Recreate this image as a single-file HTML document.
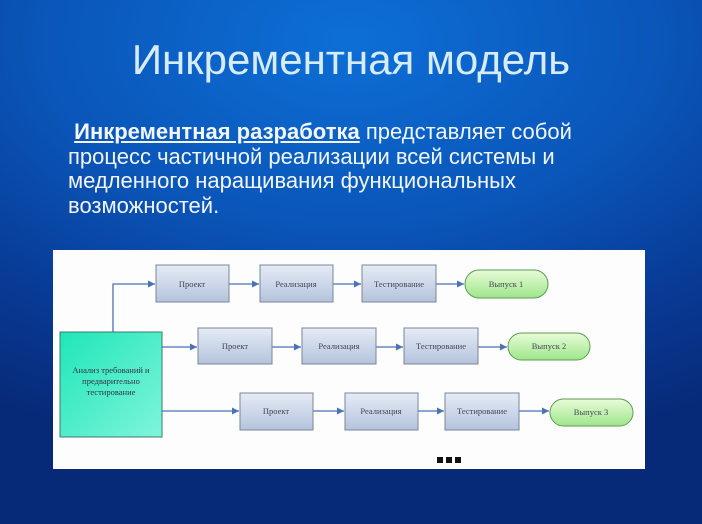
<!DOCTYPE html>
<html><head><meta charset="utf-8"><style>
html,body{margin:0;padding:0;}
body{width:702px;height:524px;overflow:hidden;position:relative;
background:radial-gradient(ellipse 700px 420px at 350px 40px,#0d6fd6 0%,#0a55b8 45%,#083a95 75%,#072a78 100%);
font-family:"Liberation Sans",sans-serif;}
.t{position:absolute;left:0;width:702px;top:36px;text-align:center;color:#d6ecfb;font-size:42px;}
.p{position:absolute;left:68px;top:120px;color:#f2f6fc;font-size:22px;line-height:24.7px;letter-spacing:0px;}
.p b{text-decoration:underline;}
svg{position:absolute;left:0;top:0;}
</style></head><body>
<div class="t">Инкрементная модель</div>
<div class="p">&nbsp;<b>Инкрементная разработка</b> представляет собой<br>процесс частичной реализации всей системы и<br>медленного наращивания функциональных<br>возможностей.</div>
<svg width="702" height="524" font-family="Liberation Serif, serif" font-size="8.5">
<defs>
<linearGradient id="b" x1="0" y1="0" x2="0" y2="1"><stop offset="0" stop-color="#e6ecf6"/><stop offset="1" stop-color="#b4c3dc"/></linearGradient>
<linearGradient id="g" x1="0" y1="0" x2="0" y2="1"><stop offset="0" stop-color="#e8fcd8"/><stop offset="1" stop-color="#9ee68a"/></linearGradient>
<linearGradient id="c" x1="0" y1="0" x2="1" y2="1"><stop offset="0" stop-color="#1fe6b8"/><stop offset="1" stop-color="#7ff5dc"/></linearGradient>
<marker id="a" markerWidth="8" markerHeight="8" refX="7" refY="4" orient="auto" markerUnits="userSpaceOnUse"><path d="M0,0.5 L7,4 L0,7.5z" fill="#4a72b4"/></marker>
</defs>
<rect x="53" y="250" width="592" height="219" fill="#fdfdfd"/>
<rect x="60" y="332" width="102" height="105" fill="url(#c)" stroke="#3c7a6a" stroke-width="1"/>
<text x="111" y="373" text-anchor="middle" fill="#334">Анализ требований и</text>
<text x="111" y="384" text-anchor="middle" fill="#334">предварительно</text>
<text x="111" y="395" text-anchor="middle" fill="#334">тестирование</text>
<g stroke="#4a72b4" stroke-width="1.3" fill="none" marker-end="url(#a)">
<path d="M113,332 V284 H155"/>
<line x1="229" y1="284" x2="259" y2="284"/>
<line x1="333" y1="284" x2="361" y2="284"/>
<line x1="436" y1="284" x2="464" y2="284"/>
<line x1="162" y1="347" x2="197" y2="347"/>
<line x1="272" y1="347" x2="301" y2="347"/>
<line x1="376" y1="347" x2="403" y2="347"/>
<line x1="478" y1="347" x2="507" y2="347"/>
<line x1="162" y1="411" x2="239" y2="411"/>
<line x1="313" y1="411" x2="344" y2="411"/>
<line x1="418" y1="411" x2="444" y2="411"/>
<line x1="519" y1="411" x2="549" y2="411"/>
</g>
<g stroke="#7a8799" stroke-width="1" fill="url(#b)">
<rect x="156" y="265" width="73" height="37"/>
<rect x="260" y="265" width="73" height="37"/>
<rect x="362" y="265" width="74" height="37"/>
<rect x="198" y="328" width="74" height="36"/>
<rect x="302" y="328" width="74" height="36"/>
<rect x="404" y="328" width="74" height="36"/>
<rect x="240" y="393" width="73" height="37"/>
<rect x="345" y="393" width="73" height="37"/>
<rect x="445" y="393" width="74" height="37"/>
</g>
<g stroke="#5d9b58" stroke-width="1" fill="url(#g)">
<rect x="465" y="270" width="83" height="28" rx="14"/>
<rect x="508" y="333" width="82" height="27" rx="13.5"/>
<rect x="550" y="399" width="83" height="27" rx="13.5"/>
</g>
<g fill="#445" text-anchor="middle">
<text x="192" y="287">Проект</text><text x="296" y="287">Реализация</text><text x="399" y="287">Тестирование</text><text x="506" y="287">Выпуск 1</text>
<text x="235" y="349">Проект</text><text x="339" y="349">Реализация</text><text x="441" y="349">Тестирование</text><text x="549" y="349">Выпуск 2</text>
<text x="276" y="414">Проект</text><text x="381" y="414">Реализация</text><text x="482" y="414">Тестирование</text><text x="591" y="415">Выпуск 3</text>
</g>
<g fill="#111"><rect x="437" y="457" width="6" height="6"/><rect x="446" y="457" width="6" height="6"/><rect x="455" y="457" width="6" height="6"/></g>
</svg>
</body></html>
